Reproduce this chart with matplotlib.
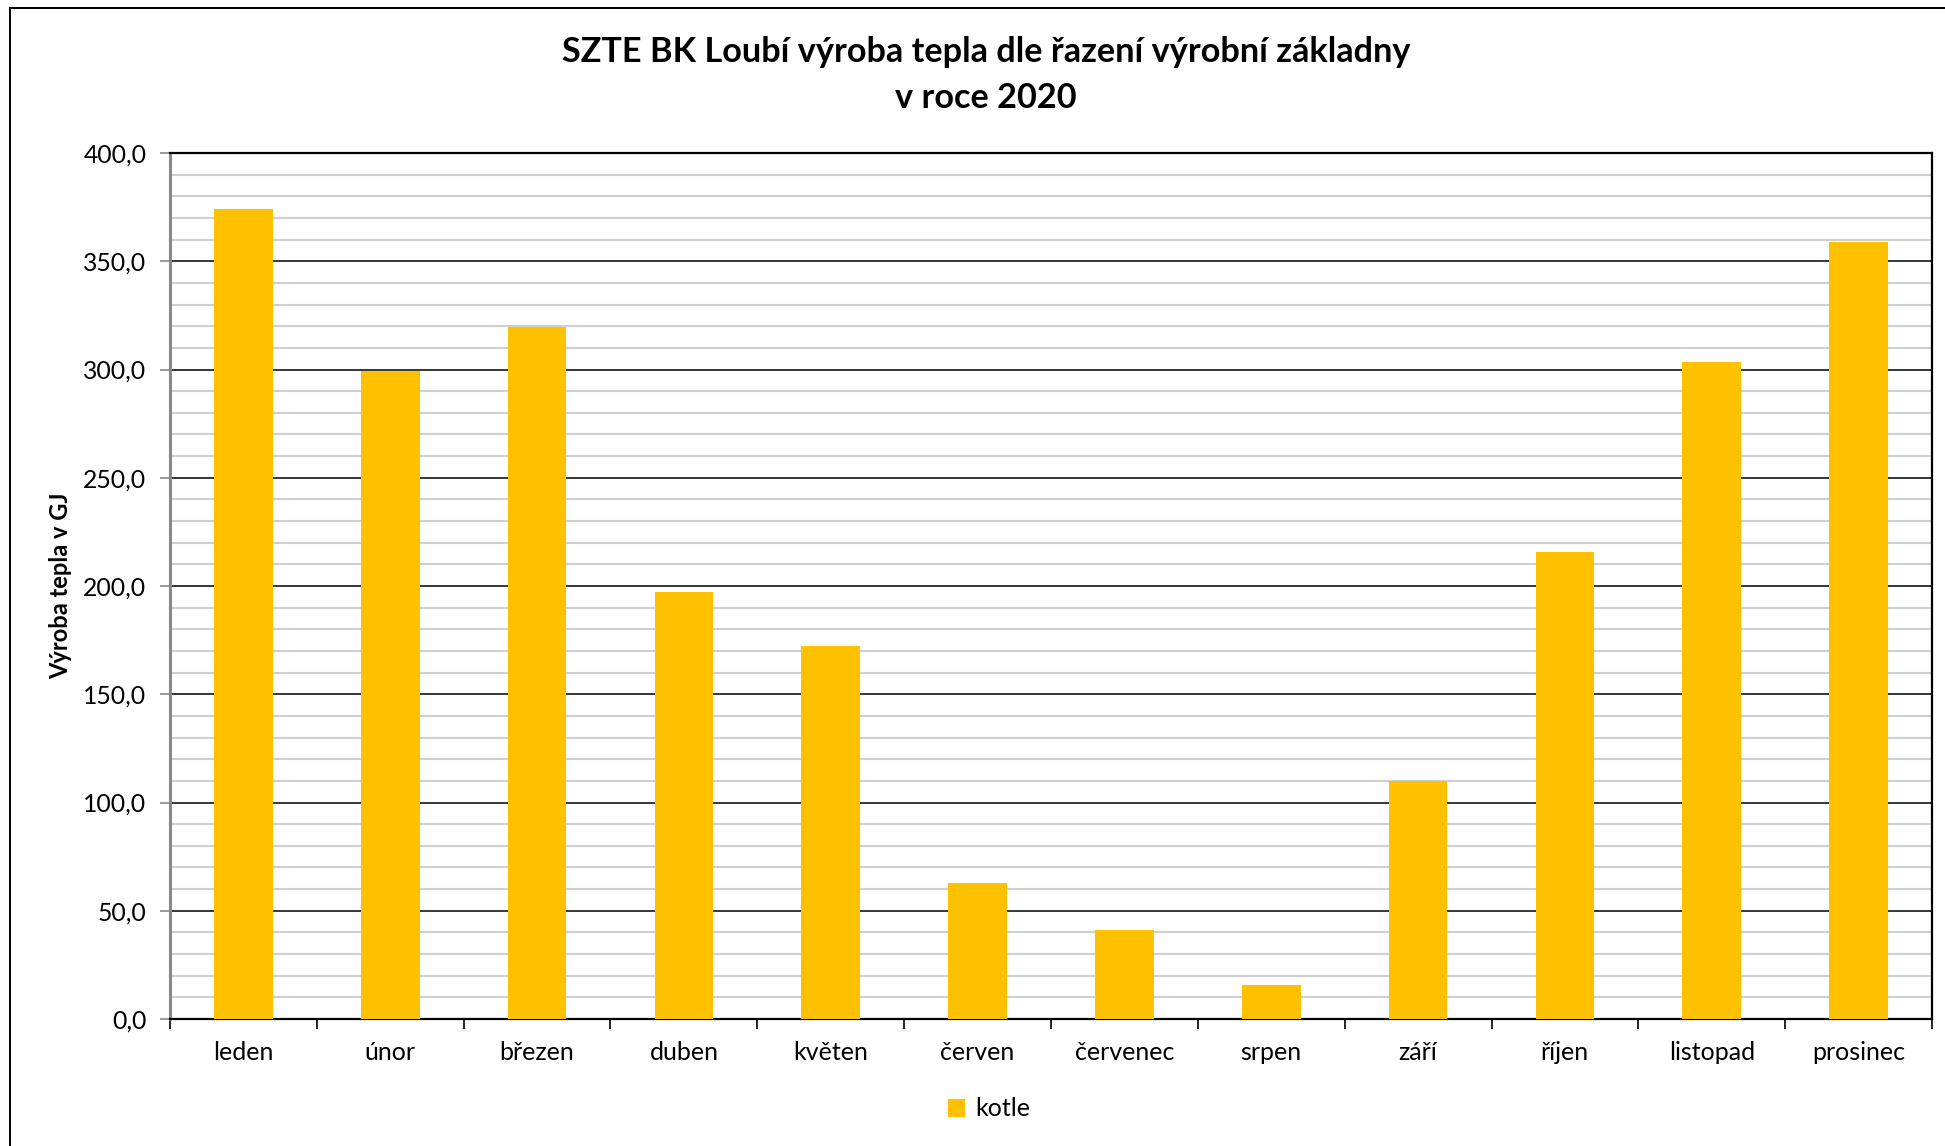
import matplotlib
matplotlib.use("Agg")
import matplotlib.pyplot as plt
from matplotlib.patches import Rectangle, Patch
from matplotlib.ticker import MultipleLocator, FuncFormatter
import numpy as np

months = ["leden", "únor", "březen", "duben", "květen", "červen",
          "červenec", "srpen", "září", "říjen", "listopad", "prosinec"]
kotle = [374.3, 299.1, 319.8, 197.1, 172.5, 62.6, 41.1, 15.7, 110.0, 215.5, 303.5, 358.7]
series_name = "kotle"
title = "SZTE BK Loubí výroba tepla dle řazení výrobní základny\nv roce 2020"
ylabel = "Výroba tepla v GJ"

W, H = 1945, 1146
plt.rcParams['font.family'] = ['Lato', 'DejaVu Sans']
fig = plt.figure(figsize=(W / 100, H / 100), dpi=100)
fig.patch.set_facecolor("white")

left, right, top, bottom = 170, 1932, 153, 1019
ax = fig.add_axes([left / W, 1 - bottom / H, (right - left) / W, (bottom - top) / H])

bar_color = "#FFC000"
x = np.arange(len(months))
ax.bar(x, kotle, width=0.40, color=bar_color, zorder=3, label=series_name)

ax.set_xlim(-0.5, len(months) - 0.5)
ax.set_ylim(0, 400)

# gridlines
for v in range(10, 400, 10):
    if v % 50 == 0:
        ax.axhline(v, color="black", lw=1.1, zorder=2)
    else:
        ax.axhline(v, color="#cfcfcf", lw=1.5, zorder=1)

ax.yaxis.set_major_locator(MultipleLocator(50))
ax.yaxis.set_major_formatter(FuncFormatter(lambda v, p: f"{v:.1f}".replace(".", ",")))
ax.tick_params(axis="y", direction="out", length=7, width=1.2, color="#888888",
               labelsize=17.8, pad=10, labelcolor="black")

ax.set_xticks(np.arange(-0.5, len(months), 1.0))
ax.set_xticklabels([])
ax.set_xticks(x, minor=True)
ax.set_xticklabels(months, minor=True)
ax.tick_params(axis="x", which="major", direction="out", length=7, width=1.2, color="black")
ax.tick_params(axis="x", which="minor", length=0, labelsize=18, pad=16)

for s in ["top", "right", "bottom"]:
    ax.spines[s].set_color("black")
    ax.spines[s].set_linewidth(1.6)
ax.spines["left"].set_color("#888888")
ax.spines["left"].set_linewidth(2.2)
ax.spines["top"].set_zorder(4)

fig.text(61 / W, 1 - 586 / H, ylabel, rotation=90, fontsize=17, fontweight="bold",
         ha="center", va="center")

fig.text(986 / W, 1 - 75 / H, title, ha="center", va="center", fontsize=24.7,
         fontweight="bold", linespacing=1.5)

handle = Patch(facecolor=bar_color, edgecolor="none")
fig.legend([handle], [series_name], loc="center", bbox_to_anchor=(989 / W, 1 - 1109 / H),
           frameon=False, fontsize=18, handlelength=0.7, handleheight=0.7, handletextpad=0.4)

# outer chart border (top and left visible)
fig.patches.append(Rectangle((10 / W, -0.1), 1.2, (H - 8) / H + 0.1, transform=fig.transFigure,
                             fill=False, edgecolor="black", lw=1.4, clip_on=False))

fig.savefig("out.png", dpi=100)
